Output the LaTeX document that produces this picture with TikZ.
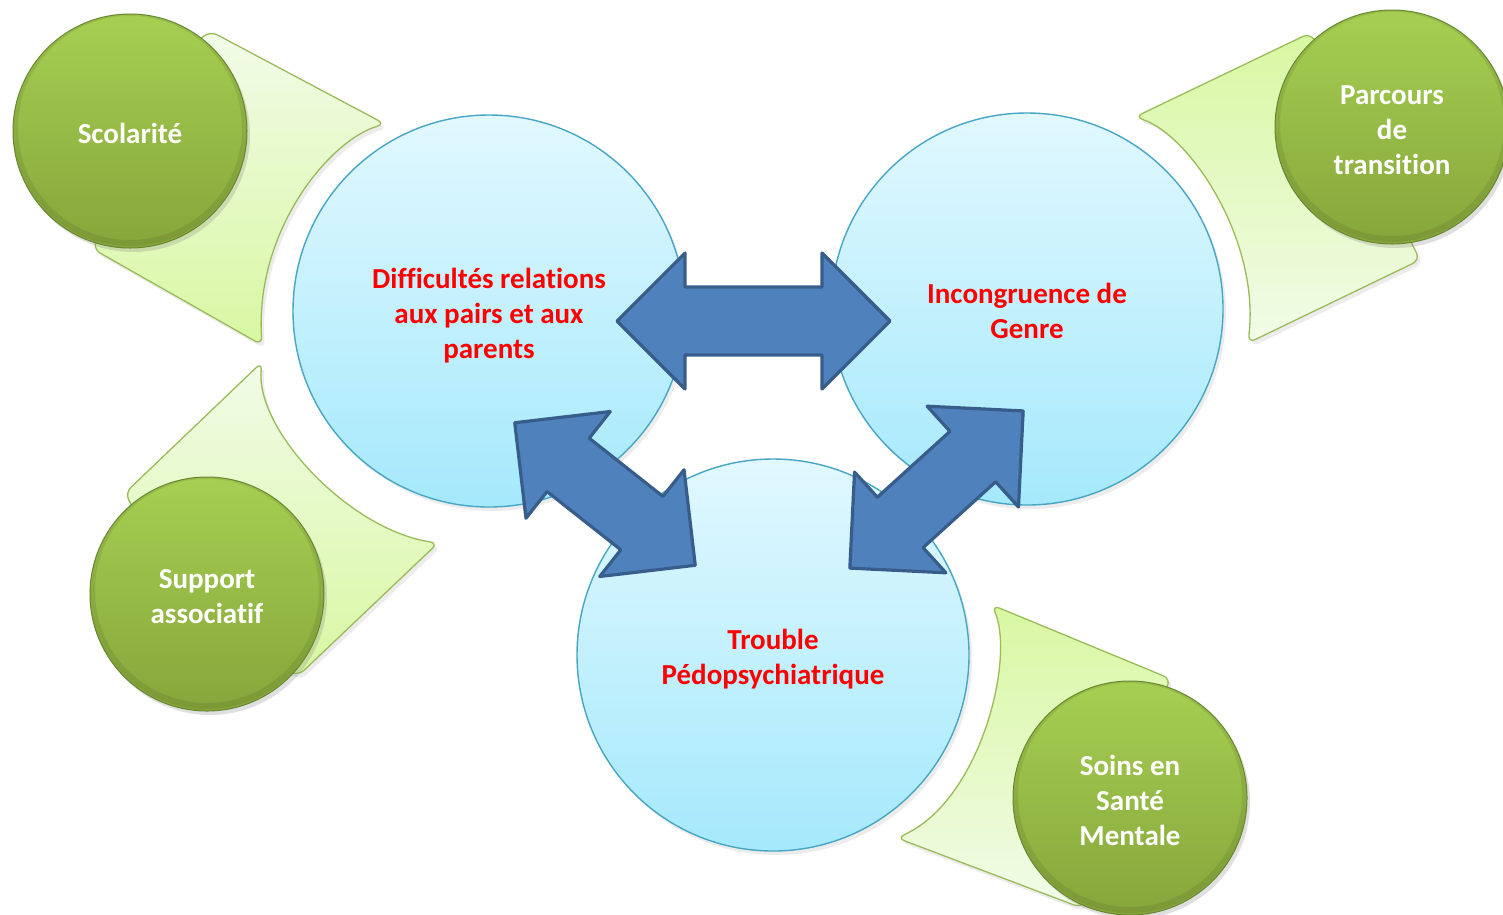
\documentclass[tikz,border=0pt]{standalone}
\usepackage{fontspec}
\setmainfont{Carlito}[Ligatures={NoCommon,NoContextual}]
\usetikzlibrary{shadows}

\definecolor{bluetop}{HTML}{E1F8FE}
\definecolor{bluebot}{HTML}{A5E9FC}
\definecolor{blueedge}{HTML}{46A6C4}
\definecolor{greentop}{HTML}{A6CF52}
\definecolor{greenbot}{HTML}{86A63B}
\definecolor{greenedge}{HTML}{688630}
\definecolor{funlight}{HTML}{F2FBE8}
\definecolor{fungreen}{HTML}{D8F8A2}
\definecolor{funedge}{HTML}{9BBB59}
\definecolor{arrowfill}{HTML}{4F81BD}
\definecolor{arrowedge}{HTML}{385D8A}
\definecolor{textred}{HTML}{FF0000}

\newcommand{\ls}{\rule[-5.5pt]{0pt}{35pt}}

\newcommand{\dblarr}[4]{%
  \begin{scope}[shift={(#1,#2)}, rotate=#3]
    \draw[arrowsty] (#4,0) -- ({#4-68},68) -- ({#4-68},34) -- ({-#4+68},34)
      -- ({-#4+68},68) -- (-#4,0) -- ({-#4+68},-68) -- ({-#4+68},-34)
      -- ({#4-68},-34) -- ({#4-68},-68) -- cycle;
  \end{scope}}

\begin{document}
\begin{tikzpicture}[x=1pt,y=-1pt,
  bigcirc/.style={circle, minimum size=392pt, inner sep=0pt,
    top color=bluetop, bottom color=bluebot, draw=blueedge, line width=1.4pt,
    drop shadow={opacity=0.15, shadow xshift=3pt, shadow yshift=-4pt},
    font=\bfseries\fontsize{29}{35}\selectfont, text=textred, align=center},
  greencirc/.style={circle, minimum size=234pt, inner sep=0pt,
    top color=greentop, bottom color=greenbot, draw=greenedge, line width=1pt,
    drop shadow={opacity=0.25, shadow xshift=3pt, shadow yshift=-4pt},
    path picture={\draw[black, draw opacity=0.08, line width=6pt]
      ([yshift=3pt]path picture bounding box.center) circle (115pt);},
    font=\bfseries\fontsize{29}{35}\selectfont, text=white, align=center},
  funnel/.style={draw=funedge, line width=1.3pt, rounded corners=8pt,
    drop shadow={opacity=0.15, shadow xshift=3pt, shadow yshift=-4pt}},
  funA/.style={funnel, top color=funlight, bottom color=fungreen},
  funB/.style={funnel, top color=fungreen, bottom color=funlight},
  arrowsty/.style={fill=arrowfill, draw=arrowedge, line width=3.2pt, line join=round}
]
\useasboundingbox (0,0) rectangle (1503,914);
\clip (0,0) rectangle (1503,914);
\fill[white] (0,0) rectangle (1503,914);

% funnels
\draw[funA] (150,80) -- (210,31) -- (385,124)
  .. controls (330,140) and (255,230) .. (262,345) -- (93,249) -- (110,200) -- cycle;
\draw[funA] (150,540) -- (125,493) -- (262,362)
  .. controls (255,430) and (350,530) .. (438,543) -- (298,676) -- (250,650) -- cycle;
\draw[funB] (1340,80) -- (1310,33) -- (1135,117)
  .. controls (1190,135) and (1260,240) .. (1248,343) -- (1420,260) -- (1400,220) -- cycle;
\draw[funB] (1150,720) -- (1171,679) -- (992,605)
  .. controls (1015,660) and (980,800) .. (897,838) -- (1082,908) -- (1100,860) -- cycle;

% green circles
\node[greencirc] (scol) at (130,131) {\ls Scolarité};
\node[greencirc] (supp) at (207,594) {\ls Support\\\ls associatif};
\node[greencirc] (parc) at (1392,127) {\ls Parcours\\\ls de\\\ls transition};
\node[greencirc] (soin) at (1130,798) {\ls Soins en\\\ls Santé\\\ls Mentale};

% big circles
\node[bigcirc] (L) at (489,311) {\ls Difficultés relations\\\ls aux pairs et aux\\\ls parents};
\node[bigcirc] (R) at (1027,309) {\ls Incongruence de\\\ls Genre};
\node[bigcirc] (B) at (773,655) {\ls Trouble\\\ls Pédopsychiatrique};

% double arrows
\dblarr{753.5}{321}{0}{136.5}
\dblarr{605}{494}{-38.3}{115}
\dblarr{936.5}{489.5}{42.2}{117}
\end{tikzpicture}
\end{document}
